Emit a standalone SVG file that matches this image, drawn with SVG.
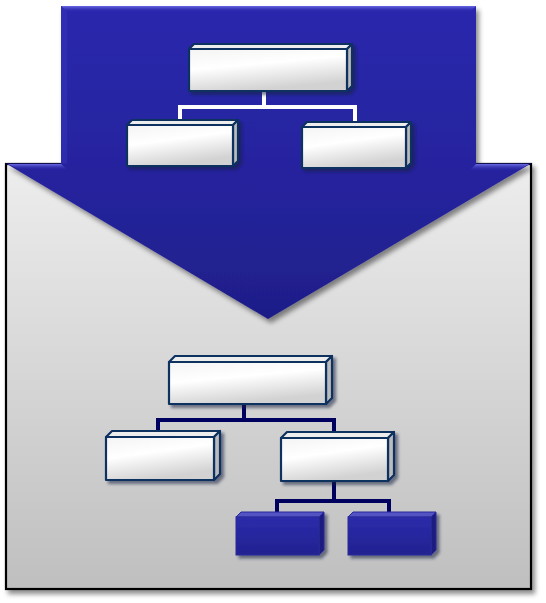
<svg xmlns="http://www.w3.org/2000/svg" width="546" height="603" viewBox="0 0 546 603">
<defs>
<linearGradient id="gBg" x1="0" y1="0" x2="0" y2="1">
<stop offset="0" stop-color="#ededed"/>
<stop offset="1" stop-color="#bfbfbf"/>
</linearGradient>
<linearGradient id="gArrow" x1="0" y1="0" x2="0" y2="1">
<stop offset="0" stop-color="#2a28ad"/>
<stop offset="0.6" stop-color="#25239c"/>
<stop offset="1" stop-color="#1e1e88"/>
</linearGradient>
<linearGradient id="gBevel" x1="0" y1="0" x2="0" y2="1">
<stop offset="0" stop-color="#6b6be6"/>
<stop offset="1" stop-color="#2a28ad" stop-opacity="0"/>
</linearGradient>
<linearGradient id="gShoulder" x1="0" y1="0" x2="0" y2="1">
<stop offset="0" stop-color="#6a6ae0"/>
<stop offset="1" stop-color="#2a28ad" stop-opacity="0"/>
</linearGradient>
<linearGradient id="gFront" x1="0" y1="0" x2="0.35" y2="1">
<stop offset="0" stop-color="#f4f4f4"/>
<stop offset="0.45" stop-color="#ffffff"/>
<stop offset="1" stop-color="#d2d2d2"/>
</linearGradient>
<linearGradient id="gBlue" x1="0" y1="0" x2="0" y2="1">
<stop offset="0" stop-color="#2b2bab"/>
<stop offset="1" stop-color="#222290"/>
</linearGradient>
<filter id="fShadow" x="-10%" y="-10%" width="125%" height="125%">
<feDropShadow dx="3" dy="4" stdDeviation="2.5" flood-color="#000" flood-opacity="0.45"/>
</filter>
<filter id="fBoxShadow" x="-10%" y="-20%" width="130%" height="150%">
<feDropShadow dx="3" dy="3" stdDeviation="1.5" flood-color="#0a1a40" flood-opacity="0.55"/>
</filter>
<style>
.front{fill:url(#gFront);stroke:#0b3060;stroke-width:2.2;stroke-linejoin:round}
.top{fill:#ededed;stroke:#0b3060;stroke-width:2.2;stroke-linejoin:round}
.side{fill:#bcbcbc;stroke:#0b3060;stroke-width:2.2;stroke-linejoin:round}
.bfront{fill:url(#gBlue);stroke:#2a2a9a;stroke-width:1}
.btop{fill:#5353c4;stroke:#2a2a9a;stroke-width:1}
.bside{fill:#1d1d80;stroke:#2a2a9a;stroke-width:1}
.wline{fill:none;stroke:#ffffff;stroke-width:4}
.nline{fill:none;stroke:#00005e;stroke-width:4}
</style>
</defs>

<g id="background-panel">
<rect x="6" y="164" width="525" height="425" fill="url(#gBg)" stroke="#000" stroke-width="2.2" filter="url(#fShadow)"/>
</g>

<g id="arrow">
<path d="M61,6 H476 V163.5 H531 L268,319 L6,163.5 H61 Z" fill="url(#gArrow)" filter="url(#fShadow)"/>
<path d="M61,6 H476 L470,12 H67 Z" fill="url(#gBevel)"/>
<path d="M61,6 L67,12 V163.5 H61 Z" fill="#3434b8" opacity="0.6"/>
<path d="M8,164 H61 L68,170 H20 Z" fill="url(#gShoulder)"/>
<path d="M476,164 H529 L517,171 H469 Z" fill="url(#gShoulder)"/>
</g>

<g id="connectors">
<path class="wline" d="M264,92 V107 M180,120 V107 H355 V122"/>
<path class="nline" d="M244,404 V420 M158,431 V420 H334 V433"/>
<path class="nline" d="M334,481 V501 M277,513 V501 H389 V513"/>
</g>

<g id="top-root" filter="url(#fBoxShadow)">
<polygon class="top" points="189,49 194,44 352,44 347,49"/>
<polygon class="side" points="347,49 352,44 352,86 347,91"/>
<rect class="front" x="189" y="49" width="158" height="42"/>
</g>
<g id="top-left" filter="url(#fBoxShadow)">
<polygon class="top" points="127,125 132,120 238,120 233,125"/>
<polygon class="side" points="233,125 238,120 238,161 233,166"/>
<rect class="front" x="127" y="125" width="106" height="41"/>
</g>
<g id="top-right" filter="url(#fBoxShadow)">
<polygon class="top" points="302,127 307,122 411,122 406,127"/>
<polygon class="side" points="406,127 411,122 411,163 406,168"/>
<rect class="front" x="302" y="127" width="104" height="41"/>
</g>

<g id="bottom-root" filter="url(#fBoxShadow)">
<polygon class="top" points="169,362 175,356 332,356 326,362"/>
<polygon class="side" points="326,362 332,356 332,398 326,404"/>
<rect class="front" x="169" y="362" width="157" height="42"/>
</g>
<g id="bottom-left" filter="url(#fBoxShadow)">
<polygon class="top" points="106,437 112,431 220,431 214,437"/>
<polygon class="side" points="214,437 220,431 220,474 214,480"/>
<rect class="front" x="106" y="437" width="108" height="43"/>
</g>
<g id="bottom-right" filter="url(#fBoxShadow)">
<polygon class="top" points="281,438 287,432 394,432 388,438"/>
<polygon class="side" points="388,438 394,432 394,475 388,481"/>
<rect class="front" x="281" y="438" width="107" height="43"/>
</g>
<g id="leaf-left" filter="url(#fBoxShadow)">
<polygon class="btop" points="236,517 241,512 324,512 319,517"/>
<polygon class="bside" points="319,517 324,512 324,550 319,555"/>
<rect class="bfront" x="236" y="517" width="83" height="38"/>
</g>
<g id="leaf-right" filter="url(#fBoxShadow)">
<polygon class="btop" points="348,517 353,512 436,512 431,517"/>
<polygon class="bside" points="431,517 436,512 436,550 431,555"/>
<rect class="bfront" x="348" y="517" width="83" height="38"/>
</g>
</svg>
